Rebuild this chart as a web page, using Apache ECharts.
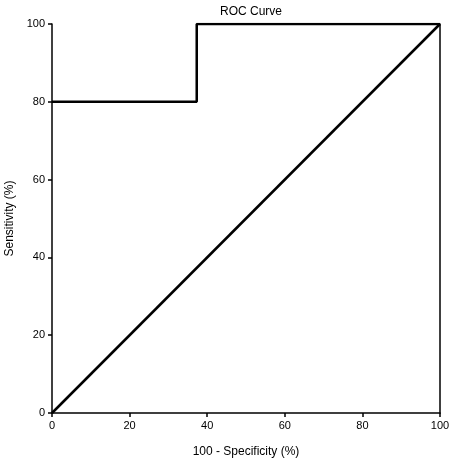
<!DOCTYPE html>
<html>
<head>
<meta charset="utf-8">
<script src="https://cdn.jsdelivr.net/npm/echarts@6/dist/echarts.min.js"></script>
<style>
html,body{margin:0;padding:0;background:#fff;}
#chart{width:458px;height:460px;}
</style>
</head>
<body>
<div id="chart"></div>
<script>
var titleText = "ROC Curve";
var xAxisName = "100 - Specificity (%)";
var yAxisName = "Sensitivity (%)";
var rocX = [0, 37.3, 37.3, 100];
var rocY = [80, 80, 100, 100];
var refX = [0, 100];
var refY = [0, 100];

function pairs(xs, ys) { return xs.map(function (x, i) { return [x, ys[i]]; }); }

var font = "'Liberation Sans', Arial, sans-serif";
var axisCommon = {
  type: 'value', min: 0, max: 100, interval: 20,
  splitLine: { show: false },
  axisLine: { show: true, lineStyle: { color: '#000', width: 1.5 } },
  axisTick: { show: true, inside: false, length: 4, lineStyle: { color: '#000', width: 1.5 } },
  axisLabel: { color: '#000', fontSize: 11, fontFamily: font },
  nameLocation: 'middle',
  nameTextStyle: { color: '#000', fontSize: 12, fontFamily: font }
};

var chart = echarts.init(document.getElementById('chart'), null, { renderer: 'canvas' });
chart.setOption({
  animation: false,
  backgroundColor: '#fff',
  title: {
    text: titleText, left: 246, top: 1, textAlign: 'center',
    textStyle: { color: '#000', fontSize: 12, fontWeight: 'normal', fontFamily: font }
  },
  grid: { left: 52, right: 18, top: 24, bottom: 47, containLabel: false, outerBoundsMode: 'none' },
  xAxis: Object.assign({}, axisCommon, {
    name: xAxisName, nameGap: 33,
    axisLabel: Object.assign({}, axisCommon.axisLabel, { margin: 7 })
  }),
  yAxis: [
    Object.assign({}, axisCommon, {
      name: yAxisName, nameGap: 32,
      axisLabel: Object.assign({}, axisCommon.axisLabel, { margin: 7 })
    }),
    {
      type: 'value', min: 0, max: 100, position: 'right',
      splitLine: { show: false }, axisTick: { show: false }, axisLabel: { show: false },
      axisLine: { show: true, lineStyle: { color: '#000', width: 1.5 } }
    }
  ],
  series: [
    {
      type: 'line', data: pairs(refX, refY), showSymbol: false, symbol: 'none',
      lineStyle: { color: '#000', width: 2.5 }, z: 3
    },
    {
      type: 'line', data: pairs(rocX, rocY), showSymbol: false, symbol: 'none',
      lineStyle: { color: '#000', width: 2.5 }, z: 4
    }
  ]
});
</script>
</body>
</html>
